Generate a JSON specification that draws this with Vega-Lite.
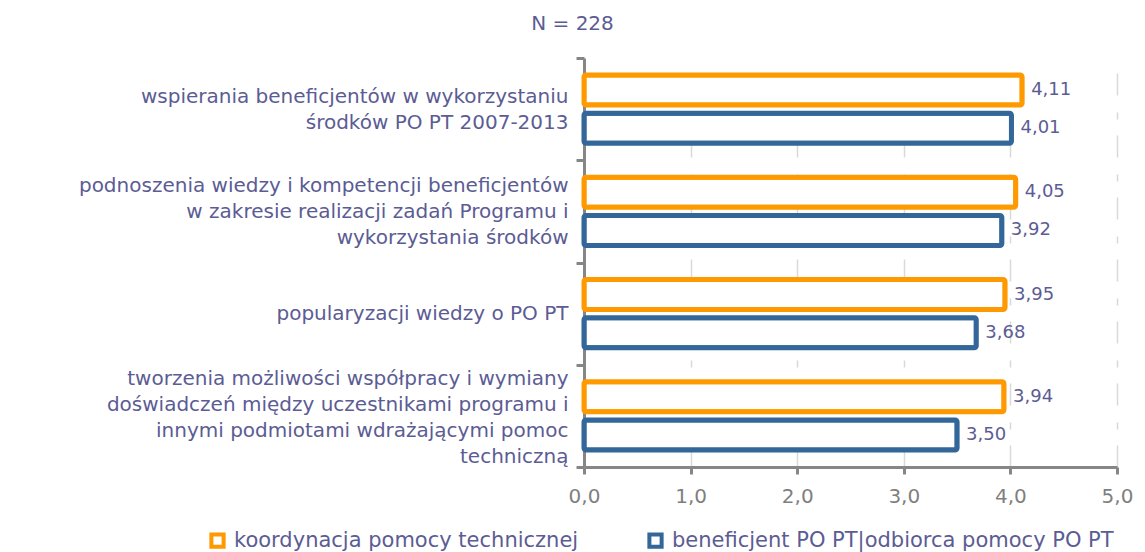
{
  "$schema": "https://vega.github.io/schema/vega-lite/v6.json",
  "autosize": "none",
  "width": 533,
  "height": 409,
  "padding": {"left": 584, "top": 58, "right": 28, "bottom": 85},
  "background": "white",
  "config": {
    "view": {"stroke": null},
    "font": "DejaVu Sans",
    "locale": {"number": {"decimal": ",", "thousands": " ", "grouping": [3], "currency": ["", " zł"]}}
  },
  "title": {
    "text": "N = 228",
    "anchor": "middle",
    "dx": -278,
    "offset": 14,
    "fontSize": 20,
    "fontWeight": "normal",
    "color": "#5c5c94"
  },
  "data": {
    "values": [
      {"cat": "wspierania beneficjentów w wykorzystaniu~środków PO PT 2007-2013", "series": "koordynacja pomocy technicznej", "value": 4.11},
      {"cat": "wspierania beneficjentów w wykorzystaniu~środków PO PT 2007-2013", "series": "beneficjent PO PT|odbiorca pomocy PO PT", "value": 4.01},
      {"cat": "podnoszenia wiedzy i kompetencji beneficjentów~w zakresie realizacji zadań Programu i~wykorzystania środków", "series": "koordynacja pomocy technicznej", "value": 4.05},
      {"cat": "podnoszenia wiedzy i kompetencji beneficjentów~w zakresie realizacji zadań Programu i~wykorzystania środków", "series": "beneficjent PO PT|odbiorca pomocy PO PT", "value": 3.92},
      {"cat": "popularyzacji wiedzy o PO PT", "series": "koordynacja pomocy technicznej", "value": 3.95},
      {"cat": "popularyzacji wiedzy o PO PT", "series": "beneficjent PO PT|odbiorca pomocy PO PT", "value": 3.68},
      {"cat": "tworzenia możliwości współpracy i wymiany~doświadczeń między uczestnikami programu i~innymi podmiotami wdrażającymi pomoc~techniczną", "series": "koordynacja pomocy technicznej", "value": 3.94},
      {"cat": "tworzenia możliwości współpracy i wymiany~doświadczeń między uczestnikami programu i~innymi podmiotami wdrażającymi pomoc~techniczną", "series": "beneficjent PO PT|odbiorca pomocy PO PT", "value": 3.50}
    ]
  },
  "encoding": {
    "y": {
      "field": "cat",
      "type": "nominal",
      "sort": null,
      "scale": {"paddingInner": 0, "paddingOuter": 0},
      "axis": {
        "title": null,
        "labelExpr": "split(datum.label, '~')",
        "labelFontSize": 20,
        "labelColor": "#5c5c94",
        "labelLineHeight": 26,
        "labelLimit": 600,
        "labelPadding": 8,
        "labelOffset": {
          "condition": [
            {"test": "length(split(datum.value, '~')) == 2", "value": -13},
            {"test": "length(split(datum.value, '~')) == 3", "value": -26},
            {"test": "length(split(datum.value, '~')) == 4", "value": -37}
          ],
          "value": 0
        },
        "tickBand": "extent",
        "tickSize": 8,
        "tickColor": "#868686",
        "tickWidth": 3,
        "domainColor": "#868686",
        "domainWidth": 3
      }
    },
    "yOffset": {
      "field": "series",
      "type": "nominal",
      "sort": ["koordynacja pomocy technicznej", "beneficjent PO PT|odbiorca pomocy PO PT"],
      "scale": {"paddingInner": 0.21, "paddingOuter": 0.447}
    },
    "x": {
      "field": "value",
      "type": "quantitative",
      "scale": {"domain": [0, 5], "nice": false},
      "axis": {
        "title": null,
        "values": [0, 1, 2, 3, 4, 5],
        "format": ".1f",
        "labelFontSize": 20,
        "labelColor": "#7f7f7f",
        "labelFlush": false,
        "labelPadding": 12,
        "tickSize": 7,
        "tickColor": "#868686",
        "tickWidth": 3,
        "domainColor": "#868686",
        "domainWidth": 3,
        "grid": true,
        "gridColor": "#d9d9d9",
        "gridWidth": 1.5,
        "gridDash": [22, 16, 7, 17]
      }
    }
  },
  "layer": [
    {
      "mark": {"type": "bar", "fill": "white", "strokeWidth": 5, "cornerRadius": 2, "strokeJoin": "round"},
      "encoding": {
        "stroke": {
          "field": "series",
          "type": "nominal",
          "sort": ["koordynacja pomocy technicznej", "beneficjent PO PT|odbiorca pomocy PO PT"],
          "scale": {"range": ["#ff9900", "#336699"]},
          "legend": {
            "title": null,
            "orient": "none",
            "legendX": -377,
            "legendY": 472,
            "direction": "horizontal",
            "symbolType": "square",
            "symbolSize": 150,
            "symbolStrokeWidth": 4,
            "symbolFillColor": "white",
            "labelFontSize": 21,
            "labelColor": "#5c5c94",
            "labelOffset": 6,
            "columnPadding": 62,
            "labelLimit": 600
          }
        }
      }
    },
    {
      "mark": {"type": "text", "align": "left", "dx": 9, "fontSize": 18, "color": "#5c5c94"},
      "encoding": {
        "text": {"field": "value", "type": "quantitative", "format": ".2f"}
      }
    }
  ]
}
